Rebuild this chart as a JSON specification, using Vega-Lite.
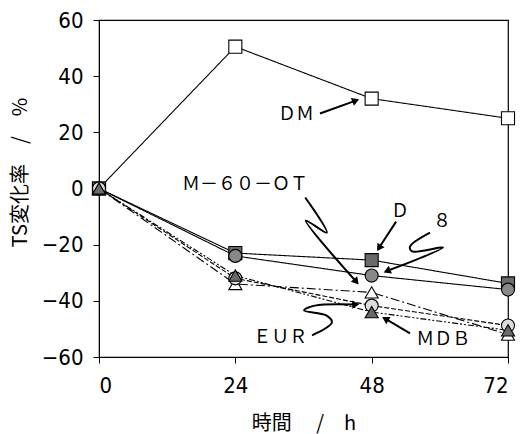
{
  "$schema": "https://vega.github.io/schema/vega-lite/v6.json",
  "autosize": "none",
  "width": 409,
  "height": 337,
  "padding": {"left": 99, "top": 20, "right": 12, "bottom": 77},
  "background": "white",
  "config": {"view": {"stroke": "#000", "strokeWidth": 1.2}},
  "datasets": {
    "series": [
      {"s": "DM", "t": 0, "v": 0}, {"s": "DM", "t": 24, "v": 50.5}, {"s": "DM", "t": 48, "v": 32}, {"s": "DM", "t": 72, "v": 25},
      {"s": "D", "t": 0, "v": 0}, {"s": "D", "t": 24, "v": -23}, {"s": "D", "t": 48, "v": -25.5}, {"s": "D", "t": 72, "v": -33.8},
      {"s": "8", "t": 0, "v": 0}, {"s": "8", "t": 24, "v": -24}, {"s": "8", "t": 48, "v": -31}, {"s": "8", "t": 72, "v": -36},
      {"s": "M-60-OT", "t": 0, "v": 0}, {"s": "M-60-OT", "t": 24, "v": -34}, {"s": "M-60-OT", "t": 48, "v": -37}, {"s": "M-60-OT", "t": 72, "v": -52},
      {"s": "EUR", "t": 0, "v": 0}, {"s": "EUR", "t": 24, "v": -32}, {"s": "EUR", "t": 48, "v": -41.7}, {"s": "EUR", "t": 72, "v": -48.8},
      {"s": "MDB", "t": 0, "v": 0}, {"s": "MDB", "t": 24, "v": -31}, {"s": "MDB", "t": 48, "v": -44}, {"s": "MDB", "t": 72, "v": -50.5}
    ],
    "arrows": [
      {"id": "DM", "o": 1, "x": 38.9, "y": 26.7}, {"id": "DM", "o": 2, "x": 45.2, "y": 31.3},
      {"id": "M", "o": 1, "x": 36.3, "y": -3.2}, {"id": "M", "o": 2, "x": 40.1, "y": -15.7}, {"id": "M", "o": 3, "x": 36.4, "y": -11.4}, {"id": "M", "o": 4, "x": 45.3, "y": -33.2},
      {"id": "D", "o": 1, "x": 52.3, "y": -11.8}, {"id": "D", "o": 2, "x": 49.5, "y": -20.5},
      {"id": "8", "o": 1, "x": 58.27, "y": -15.67}, {"id": "8", "o": 2, "x": 54.75, "y": -20.65}, {"id": "8", "o": 3, "x": 55.1, "y": -22.4}, {"id": "8", "o": 4, "x": 60.56, "y": -21.0}, {"id": "8", "o": 5, "x": 50.9, "y": -29.2},
      {"id": "EUR", "o": 1, "x": 37.5, "y": -52.3}, {"id": "EUR", "o": 2, "x": 41.0, "y": -47.7}, {"id": "EUR", "o": 3, "x": 40.0, "y": -45.2}, {"id": "EUR", "o": 4, "x": 36.1, "y": -43.4}, {"id": "EUR", "o": 5, "x": 38.0, "y": -41.7}, {"id": "EUR", "o": 6, "x": 45.0, "y": -41.3},
      {"id": "MDB", "o": 1, "x": 54.75, "y": -51.6}, {"id": "MDB", "o": 2, "x": 50.6, "y": -46.6}
    ],
    "heads": [
      {"x": 45.2, "y": 31.3, "a": 68},
      {"x": 45.3, "y": -33.2, "a": 140},
      {"x": 49.3, "y": -21.2, "a": 212},
      {"x": 50.7, "y": -29.4, "a": 247},
      {"x": 45.2, "y": -41.3, "a": 88},
      {"x": 50.4, "y": -46.4, "a": 301}
    ],
    "labels": [
      {"x": 34.7, "y": 26.0, "txt": "ＤＭ"},
      {"x": 25.7, "y": 1.1, "txt": "Ｍ－６０－ＯＴ"},
      {"x": 53.0, "y": -8.5, "txt": "Ｄ"},
      {"x": 60.4, "y": -12.1, "txt": "８"},
      {"x": 31.9, "y": -53.4, "txt": "ＥＵＲ"},
      {"x": 60.6, "y": -54.1, "txt": "ＭＤＢ"}
    ]
  },
  "resolve": {"scale": {"x": "shared", "y": "shared"}},
  "layer": [
    {
      "data": {"name": "series"},
      "mark": {"type": "line", "color": "#000", "strokeWidth": 1.1},
      "encoding": {
        "x": {"field": "t", "type": "quantitative", "scale": {"domain": [0, 72], "nice": false, "zero": false},
          "axis": {"values": [0, 24, 48, 72], "title": "時間　 /　h", "titleFont": "Noto Sans CJK JP", "titleFontSize": 20, "titleFontWeight": "normal", "titleColor": "#000", "titleY": 66, "titleBaseline": "middle",
            "labelFont": "DejaVu Sans Condensed", "labelFontSize": 22, "labelColor": "#000", "labelPadding": 12, "tickSize": 6, "tickColor": "#000", "domainColor": "#000", "grid": false}},
        "y": {"field": "v", "type": "quantitative", "scale": {"domain": [-60, 60], "nice": false},
          "axis": {"values": [-60, -40, -20, 0, 20, 40, 60], "title": "TS変化率　/　%", "titleFont": "Noto Sans CJK JP", "titleFontSize": 20, "titleFontWeight": "normal", "titleColor": "#000", "titleX": -79, "titleY": 152, "titleAngle": -90, "titleAlign": "center", "titleBaseline": "middle",
            "labelFont": "DejaVu Sans Condensed", "labelFontSize": 22, "labelColor": "#000", "labelPadding": 10, "tickSize": 6, "tickColor": "#000", "domainColor": "#000", "grid": false}},
        "detail": {"field": "s"},
        "strokeDash": {"field": "s", "type": "nominal", "legend": null,
          "scale": {"domain": ["DM", "D", "8", "M-60-OT", "EUR", "MDB"], "range": [[1, 0], [1, 0], [1, 0], [9, 3, 2, 3], [5, 2], [6, 2, 2, 2, 2, 2]]}}
      }
    },
    {
      "data": {"name": "series"},
      "mark": {"type": "point", "filled": true, "stroke": "#000", "strokeWidth": 1.1, "size": 170, "opacity": 1},
      "encoding": {
        "x": {"field": "t", "type": "quantitative"},
        "y": {"field": "v", "type": "quantitative"},
        "shape": {"field": "s", "type": "nominal", "legend": null,
          "scale": {"domain": ["DM", "D", "8", "M-60-OT", "EUR", "MDB"], "range": ["square", "square", "circle", "triangle-up", "circle", "triangle-up"]}},
        "fill": {"field": "s", "type": "nominal", "legend": null,
          "scale": {"domain": ["DM", "D", "8", "M-60-OT", "EUR", "MDB"], "range": ["#ffffff", "#6a6a6a", "#888888", "#ffffff", "#dddddd", "#6a6a6a"]}}
      }
    },
    {
      "data": {"name": "arrows"},
      "mark": {"type": "line", "color": "#000", "strokeWidth": 2, "interpolate": "catmull-rom"},
      "encoding": {
        "x": {"field": "x", "type": "quantitative"},
        "y": {"field": "y", "type": "quantitative"},
        "detail": {"field": "id"},
        "order": {"field": "o", "type": "quantitative"}
      }
    },
    {
      "data": {"name": "heads"},
      "mark": {"type": "point", "shape": "triangle-up", "filled": true, "color": "#000", "size": 70, "opacity": 1},
      "encoding": {
        "x": {"field": "x", "type": "quantitative"},
        "y": {"field": "y", "type": "quantitative"},
        "angle": {"field": "a", "type": "quantitative", "scale": null}
      }
    },
    {
      "data": {"name": "labels"},
      "mark": {"type": "text", "font": "Noto Sans CJK JP", "fontSize": 18, "color": "#000", "align": "center", "baseline": "middle"},
      "encoding": {
        "x": {"field": "x", "type": "quantitative"},
        "y": {"field": "y", "type": "quantitative"},
        "text": {"field": "txt"}
      }
    }
  ]
}
